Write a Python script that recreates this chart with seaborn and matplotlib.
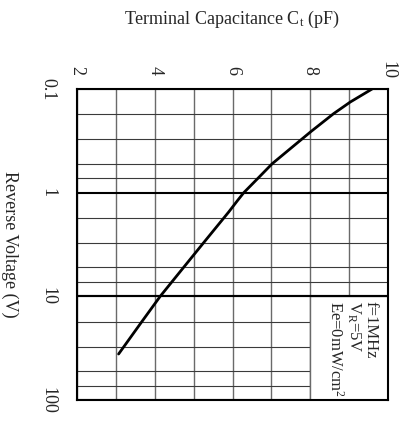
import numpy as np
import pandas as pd
import matplotlib
matplotlib.use("Agg")
import matplotlib.pyplot as plt
from matplotlib.ticker import FixedLocator, NullFormatter
from matplotlib.patches import Rectangle
import seaborn as sns

# ---- data ----
reverse_voltage = [0.1, 0.1335, 0.173, 0.257, 0.526, 0.723, 1.0, 1.19,
                   1.54, 3.03, 5.27, 10.0, 17.5, 36.0]
capacitance = [9.59, 9.03, 8.60, 8.02, 7.02, 6.66, 6.29, 6.13,
               5.90, 5.26, 4.74, 4.14, 3.67, 3.07]

cap_major_ticks = [2, 4, 6, 8, 10]
cap_minor_ticks = [3, 5, 7, 9]
cap_tick_labels = ["2", "4", "6", "8", "10"]
volt_major_ticks = [0.1, 1, 10, 100]
volt_tick_labels = ["0.1", "1", "10", "100"]
volt_minor_mult = [1.75, 3.05, 5.25, 7.25]
volt_minor_ticks = [d * m for d in [0.1, 1, 10] for m in volt_minor_mult]

title_text = "Terminal Capacitance C$_\\mathregular{t}$ (pF)"
ylabel_text = "Reverse Voltage (V)"
note_text = "f=1MHz\nV$_\\mathregular{R}$=5V\nEe=0mW/cm$^\\mathregular{2}$"

df = pd.DataFrame({"C": capacitance, "V": reverse_voltage})

sns.set_style("white")
plt.rcParams["font.family"] = ["Liberation Serif", "DejaVu Serif"]
plt.rcParams["mathtext.fontset"] = "custom"
plt.rcParams["mathtext.rm"] = "Liberation Serif"
plt.rcParams["mathtext.it"] = "Liberation Serif:italic"

W, H = 399, 425
fig = plt.figure(figsize=(W / 100, H / 100), dpi=100)
ax = fig.add_axes([77 / W, 1 - 400 / H, (388 - 77) / W, (400 - 89) / H])

ax.set_yscale("log")
ax.set_xlim(2, 10)
ax.set_ylim(100, 0.1)

sns.lineplot(data=df, x="C", y="V", ax=ax, color="black", lw=2.0,
             estimator=None, sort=True, zorder=5)

ax.set_axisbelow(True)
ax.xaxis.tick_top()
ax.xaxis.set_major_locator(FixedLocator(cap_major_ticks))
ax.xaxis.set_minor_locator(FixedLocator(cap_minor_ticks))
ax.set_xticklabels(cap_tick_labels)
ax.xaxis.set_minor_formatter(NullFormatter())
ax.yaxis.set_major_locator(FixedLocator(volt_major_ticks))
ax.yaxis.set_minor_locator(FixedLocator(volt_minor_ticks))
ax.set_yticklabels(volt_tick_labels)
ax.yaxis.set_minor_formatter(NullFormatter())

ax.grid(True, axis="x", which="both", color="#6a6a6a", lw=1.0)
ax.grid(True, axis="y", which="minor", color="#3a3a3a", lw=0.8)
ax.grid(True, axis="y", which="major", color="black", lw=1.5)

ax.tick_params(axis="both", which="both", length=0)
ax.tick_params(axis="x", which="major", pad=13.5, labelsize=13)
ax.tick_params(axis="y", which="major", pad=15, labelsize=13)
for lab in ax.get_xticklabels():
    lab.set_rotation(-90)
    lab.set_va("center")
    lab.set_ha("center")
for lab in ax.get_yticklabels():
    lab.set_rotation(-90)
    lab.set_va("center")
    lab.set_ha("right")

for sp in ax.spines.values():
    sp.set_color("black")
    sp.set_linewidth(1.5)
    sp.set_zorder(6)

ax.set_xlabel("")
ax.set_ylabel(ylabel_text, rotation=-90, fontsize=13, va="center", ha="center")
ax.yaxis.set_label_coords((10 - 77) / 311, 0.5)

# blank panel holding the test conditions
ax.add_patch(Rectangle((8, 10), 2, 90, facecolor="white", edgecolor="#6a6a6a",
                       lw=1.0, zorder=1))
ax.axhline(10, color="black", lw=1.5, zorder=2)
ax.text((378 - 77) / 311, (400 - 301) / 311, note_text, transform=ax.transAxes,
        rotation=-90, ha="right", va="top", fontsize=12, linespacing=1.0,
        multialignment="left", zorder=3)

fig.text(232 / W, 1 - 24 / H, title_text, ha="center", va="baseline", fontsize=13)

fig.savefig("out.png", dpi=100)
